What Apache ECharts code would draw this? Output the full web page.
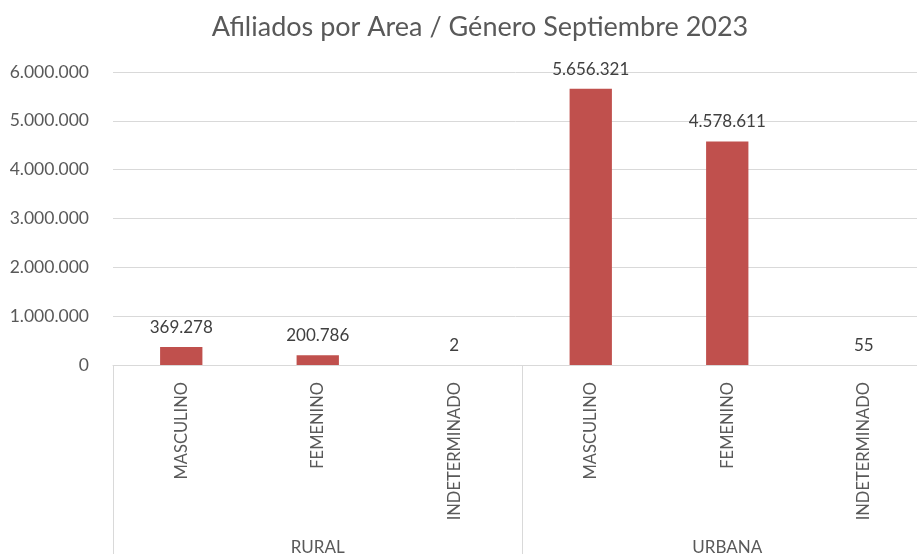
<!DOCTYPE html>
<html>
<head>
<meta charset="utf-8">
<script src="https://cdn.jsdelivr.net/npm/echarts@6/dist/echarts.min.js"></script>
<style>
  html, body { margin: 0; padding: 0; background: #fff; }
  #chart { width: 917px; height: 554px; }
</style>
</head>
<body>
<div id="chart"></div>
<script>
// datos
const generos = ['MASCULINO', 'FEMENINO', 'INDETERMINADO', 'MASCULINO', 'FEMENINO', 'INDETERMINADO'];
const areas = ['RURAL', 'URBANA'];
const afiliados = [369278, 200786, 2, 5656321, 4578611, 55];
const yTicks = { min: 0, max: 6000000, step: 1000000 };

// 1234567 -> 1.234.567
function puntos(v) {
  return String(Math.round(v)).replace(/\B(?=(\d{3})+(?!\d))/g, '.');
}

const chart = echarts.init(document.getElementById('chart'));
const font = 'Lato, "Open Sans", sans-serif';

const option = {
  animation: false,
  title: {
    text: 'Afiliados por Area / Género Septiembre 2023',
    left: 475,
    top: 9,
    textAlign: 'center',
    textStyle: {
      fontFamily: font,
      fontWeight: 'normal',
      fontSize: 27,
      color: '#595959'
    }
  },
  grid: {
    left: 113,
    top: 72,
    width: 819,
    height: 293,
    outerBoundsMode: 'none'
  },
  xAxis: [{
    type: 'category',
    data: generos,
    axisLine: { lineStyle: { color: '#d9d9d9' } },
    axisTick: { show: false },
    axisLabel: {
      rotate: 90,
      interval: 0,
      margin: 17,
      fontFamily: font,
      fontSize: 16.5,
      color: '#595959'
    }
  },
  {
    type: 'category',
    data: areas,
    position: 'bottom',
    axisLine: { show: false },
    axisTick: {
      show: true,
      length: 200,
      lineStyle: { color: '#d9d9d9' }
    },
    axisLabel: {
      margin: 174,
      fontFamily: font,
      fontSize: 17,
      color: '#595959'
    }
  }],
  yAxis: {
    type: 'value',
    min: yTicks.min,
    max: yTicks.max,
    interval: yTicks.step,
    axisLine: { show: false },
    axisTick: { show: false },
    splitLine: { lineStyle: { color: '#d9d9d9' } },
    axisLabel: {
      margin: 24,
      fontFamily: font,
      fontSize: 17.5,
      color: '#595959',
      formatter: puntos
    }
  },
  series: [{
    type: 'bar',
    xAxisIndex: 0,
    data: afiliados,
    barWidth: '31%',
    itemStyle: { color: '#C0504D' },
    label: {
      show: true,
      position: 'top',
      distance: 11,
      fontFamily: font,
      fontSize: 17,
      color: '#404040',
      formatter: p => puntos(p.value)
    }
  }]
};

chart.setOption(option);
</script>
</body>
</html>
